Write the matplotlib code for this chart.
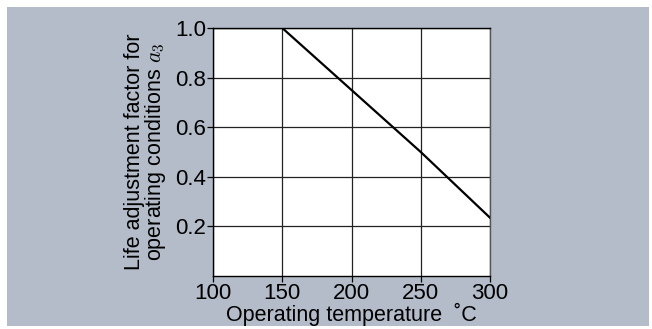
import matplotlib.pyplot as plt
from matplotlib.patches import Rectangle

plt.rcParams['font.family'] = ['Liberation Sans', 'DejaVu Sans']
plt.rcParams['mathtext.fontset'] = 'cm'

temperature = [100, 150, 200, 250, 300]
factor = [1.0, 1.0, 0.75, 0.5, 0.235]
xticks = [100, 150, 200, 250, 300]
yticks = [0.2, 0.4, 0.6, 0.8, 1.0]

W, H = 652, 329
fig = plt.figure(figsize=(W / 100, H / 100), dpi=100, facecolor='white')
bg = '#b3bcc8'
fig.patches.append(Rectangle((7 / W, 3 / H), 642 / W, 319 / H,
                             transform=fig.transFigure, facecolor=bg,
                             edgecolor='none', zorder=-10))

ax = fig.add_axes([213 / W, 1 - 276 / H, 277 / W, 248 / H])
ax.set_facecolor('white')
ax.plot(temperature, factor, color='black', lw=1.6, zorder=3)
ax.set_xlim(100, 300)
ax.set_ylim(0, 1.0)
ax.set_xticks(xticks)
ax.set_yticks(yticks)
ax.set_yticklabels(['0.2', '0.4', '0.6', '0.8', '1.0'])
ax.grid(True, color='#222222', lw=0.9)
ax.tick_params(direction='out', length=4, width=0.9, labelsize=16,
               colors='black', pad=1)
for s in ax.spines.values():
    s.set_color('black')
    s.set_linewidth(1)
ax.spines['right'].set_color('#555555')

ax.set_xlabel('Operating temperature  ˚C', fontsize=15.5, labelpad=-1)
ax.set_ylabel('Life adjustment factor for\noperating conditions $a_3$',
              fontsize=15.5, linespacing=0.88)
ax.yaxis.set_label_coords(-0.162, 0.5)

fig.savefig('out.png', dpi=100, facecolor='white')
